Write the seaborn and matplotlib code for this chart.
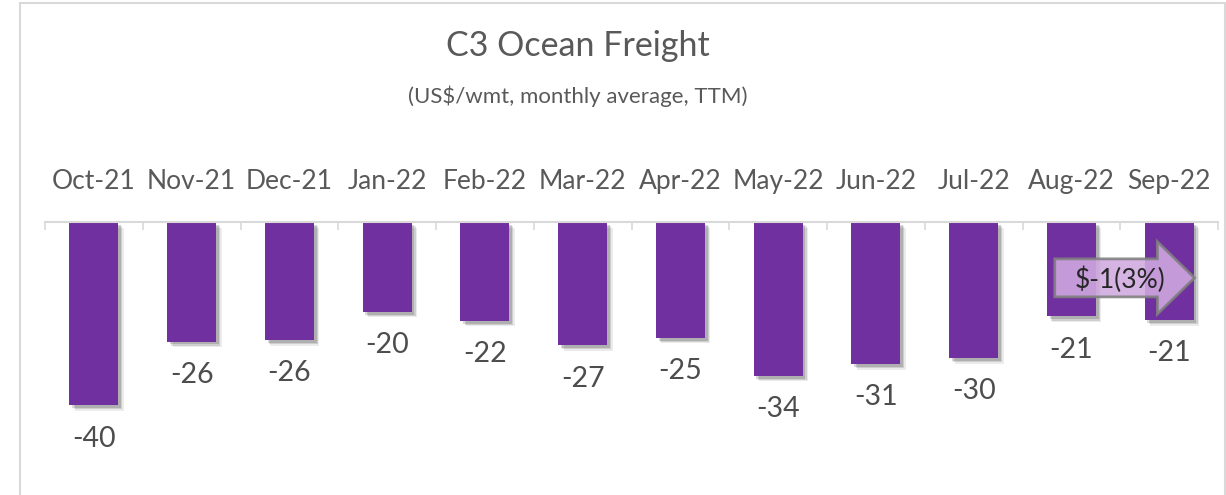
import numpy as np
import matplotlib
matplotlib.use("Agg")
import matplotlib.pyplot as plt
import matplotlib.patches as mpatches
import matplotlib.patheffects as pe
import seaborn as sns

# --- datos ---
meses = ["Oct-21", "Nov-21", "Dec-21", "Jan-22", "Feb-22", "Mar-22",
         "Apr-22", "May-22", "Jun-22", "Jul-22", "Aug-22", "Sep-22"]
flete = [-40.0, -26.1, -25.8, -19.6, -21.6, -26.9,
         -25.3, -33.6, -31.0, -29.7, -20.6, -21.4]
titulo = "C3 Ocean Freight"
subtitulo = "(US$/wmt, monthly average, TTM)"
texto_flecha = "$-1(3%)"

MORADO = "#7030A0"
GRIS_TEXTO = "#595959"
GRIS_LINEA = "#D9D9D9"

sns.set_theme(style="white")
plt.rcParams["font.family"] = ["Lato", "DejaVu Sans"]

W, H = 1226, 495
fig = plt.figure(figsize=(W / 100, H / 100), dpi=100)
fig.patch.set_facecolor("white")

# eje: cero en y=222 px, 4.58 px por unidad
y0_px, px_unidad, ymin = 222, 4.58, -55
y_bottom_px = y0_px - ymin * px_unidad
ax = fig.add_axes([45 / W, 1 - y_bottom_px / H, (1218 - 45) / W, (y_bottom_px - y0_px) / H])
ax.set_facecolor("none")

sns.barplot(x=meses, y=flete, color=MORADO, saturation=1, width=0.5, ax=ax,
            linewidth=0, edgecolor=MORADO)

# sombra de las barras
for barra in ax.patches:
    barra.set_path_effects([
        pe.SimplePatchShadow(offset=(4, -4), shadow_rgbFace="black", alpha=0.08),
        pe.SimplePatchShadow(offset=(3, -3), shadow_rgbFace="black", alpha=0.12),
        pe.SimplePatchShadow(offset=(2, -2), shadow_rgbFace="black", alpha=0.15),
        pe.Normal(),
    ])

ax.set_ylim(ymin, 0)
ax.set_xlim(-0.5, len(meses) - 0.5)
ax.set_xlabel("")
ax.set_ylabel("")
ax.set_yticks([])

# eje x arriba
ax.xaxis.set_ticks_position("top")
ax.xaxis.set_label_position("top")
ax.set_xticks(np.arange(-0.5, len(meses), 1), minor=True)
ax.tick_params(axis="x", which="major", length=0, pad=20, labelsize=19, labelcolor=GRIS_TEXTO)
ax.tick_params(axis="x", which="minor", direction="in", length=6, width=1.2, color=GRIS_LINEA)
for lado in ["left", "right", "bottom"]:
    ax.spines[lado].set_visible(False)
ax.spines["top"].set_color(GRIS_LINEA)
ax.spines["top"].set_linewidth(1.5)

# etiquetas de valor
for i, v in enumerate(flete):
    ax.annotate(f"{v:.0f}", xy=(i, v), xytext=(0, -24), textcoords="offset points",
                ha="center", va="center", fontsize=20.5, color="#4D4D4D",
                annotation_clip=False)

# flecha de variacion
flecha = mpatches.FancyArrow(9.83, -12.2, 1.43, 0, width=8.3, head_width=15.8,
                             head_length=0.38, length_includes_head=True,
                             facecolor="#D0AAE0", alpha=0.88, edgecolor="#7F7F7F",
                             linewidth=2, zorder=5)
ax.add_patch(flecha)
ax.text(10.5, -12.7, texto_flecha, ha="center", va="center", fontsize=19,
        color="#262626", zorder=6)

# titulos
fig.text(578 / W, 1 - 46 / H, titulo, ha="center", va="center", fontsize=24.5, color=GRIS_TEXTO)
fig.text(578 / W, 1 - 96 / H, subtitulo, ha="center", va="center", fontsize=16, color=GRIS_TEXTO)

# marco
fig.patches.append(mpatches.Rectangle((20 / W, -0.1), (1225 - 20) / W, 1.1 - 3 / H,
                                      transform=fig.transFigure, fill=False,
                                      edgecolor=GRIS_LINEA, linewidth=1.5))

fig.savefig("out.png", dpi=100)
plt.close(fig)
